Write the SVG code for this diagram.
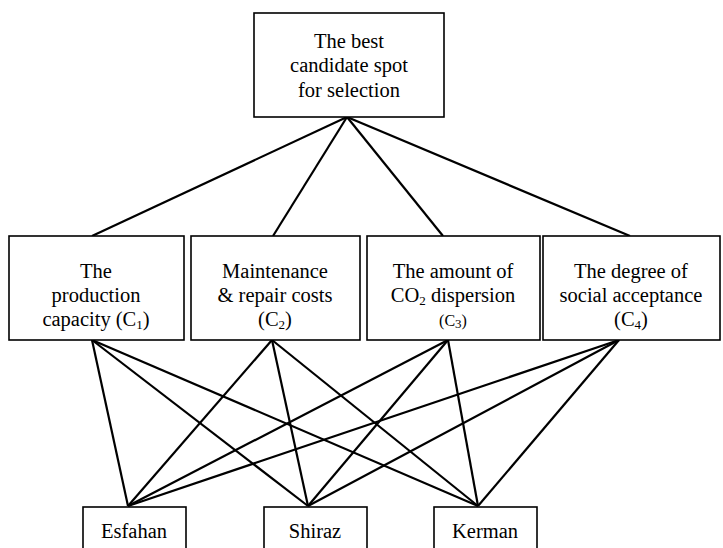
<svg xmlns="http://www.w3.org/2000/svg" width="723" height="548" viewBox="0 0 723 548">
<style>
.box{fill:#fff;stroke:#000;stroke-width:1.6}
text{font-family:'Liberation Serif','DejaVu Serif','Noto Serif',serif;font-size:20.5px;fill:#000;text-anchor:middle}
.sub{font-size:13px}
.c{stroke:#000;stroke-width:2.2;fill:none}
</style>
<rect width="723" height="548" fill="#fff"/>
<g id="connectors">
<line class="c" x1="347" y1="117" x2="92" y2="236"/>
<line class="c" x1="347" y1="117" x2="273" y2="236"/>
<line class="c" x1="347" y1="117" x2="443" y2="236"/>
<line class="c" x1="347" y1="117" x2="630" y2="236"/>
<line class="c" x1="92" y1="340" x2="128" y2="506"/>
<line class="c" x1="92" y1="340" x2="308" y2="506"/>
<line class="c" x1="92" y1="340" x2="478" y2="506"/>
<line class="c" x1="272" y1="340" x2="128" y2="506"/>
<line class="c" x1="272" y1="340" x2="308" y2="506"/>
<line class="c" x1="272" y1="340" x2="478" y2="506"/>
<line class="c" x1="448" y1="340" x2="128" y2="506"/>
<line class="c" x1="448" y1="340" x2="308" y2="506"/>
<line class="c" x1="448" y1="340" x2="478" y2="506"/>
<line class="c" x1="619" y1="340" x2="128" y2="506"/>
<line class="c" x1="619" y1="340" x2="308" y2="506"/>
<line class="c" x1="619" y1="340" x2="478" y2="506"/>
</g>
<g id="goal">
<rect class="box" x="254" y="13" width="190" height="104"/>
<text x="349" y="48">The best</text>
<text x="349" y="72">candidate spot</text>
<text x="349" y="97">for selection</text>
</g>
<g id="c1">
<rect class="box" x="9" y="236" width="175" height="104"/>
<text x="96" y="278">The</text>
<text x="96" y="302">production</text>
<text x="96" y="326">capacity (C<tspan class="sub" dy="3">1</tspan><tspan dy="-3">)</tspan></text>
</g>
<g id="c2">
<rect class="box" x="191" y="236" width="169" height="104"/>
<text x="275" y="278">Maintenance</text>
<text x="275" y="302">&amp; repair costs</text>
<text x="275" y="326">(C<tspan class="sub" dy="3">2</tspan><tspan dy="-3">)</tspan></text>
</g>
<g id="c3">
<rect class="box" x="367" y="236" width="173" height="104"/>
<text x="453" y="278">The amount of</text>
<text x="453" y="302">CO<tspan class="sub" dy="3">2</tspan><tspan dy="-3"> dispersion</tspan></text>
<text x="453" y="326" style="font-size:16px">(C<tspan class="sub" dy="2">3</tspan><tspan dy="-2">)</tspan></text>
</g>
<g id="c4">
<rect class="box" x="543" y="236" width="177" height="104"/>
<text x="631" y="278">The degree of</text>
<text x="631" y="302">social acceptance</text>
<text x="631" y="326">(C<tspan class="sub" dy="3">4</tspan><tspan dy="-3">)</tspan></text>
</g>
<g id="esfahan">
<rect class="box" x="83" y="507" width="103" height="50"/>
<text x="134" y="538">Esfahan</text>
</g>
<g id="shiraz">
<rect class="box" x="264" y="507" width="103" height="50"/>
<text x="315" y="538">Shiraz</text>
</g>
<g id="kerman">
<rect class="box" x="434" y="507" width="103" height="50"/>
<text x="485" y="538">Kerman</text>
</g>
</svg>
